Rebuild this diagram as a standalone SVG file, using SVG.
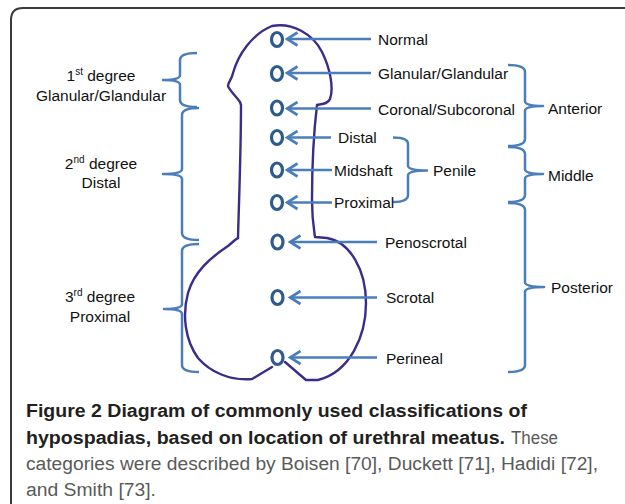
<svg xmlns="http://www.w3.org/2000/svg" width="625" height="504" viewBox="0 0 625 504">
<defs>
<style>
.lbl{font-family:"Liberation Sans",Arial,sans-serif;font-size:15.5px;fill:#111}
.lft{font-family:"Liberation Sans",Arial,sans-serif;font-size:15.5px;fill:#111;text-anchor:middle}
.sup{font-size:10px}
.cb{font-family:"Liberation Sans",Arial,sans-serif;font-size:18px;font-weight:bold;fill:#231f20}
.cr{font-family:"Liberation Sans",Arial,sans-serif;font-size:18px;fill:#5a5a5a}
.arr{stroke:#4a7ebb;stroke-width:2.7;fill:none;marker-end:url(#ah)}
.brace{stroke:#4a7ebb;stroke-width:2.5;fill:none;stroke-linejoin:round}
.ov{stroke:#2f5b8a;stroke-width:3.2;fill:none}
.body{stroke:#3d2b88;stroke-width:2.4;fill:none;stroke-linejoin:round;stroke-linecap:round}
</style>
<marker id="ah" markerUnits="userSpaceOnUse" viewBox="0 0 14 16" refX="12" refY="8" markerWidth="14" markerHeight="16" orient="auto">
<path d="M1.5,1.5 L12,8 L1.5,14.5" fill="none" stroke="#4a7ebb" stroke-width="2.7"/>
</marker>
</defs>
<rect width="625" height="504" fill="#ffffff"/>
<path d="M11,504 L11,20 Q11,8 23,8 L625,8" fill="none" stroke="#3a3a3a" stroke-width="2"/>

<g id="body">
<path class="body" d="M238,238 C239,200 241,150 241,105 L240,102 C236,96 229,90 228,86 C228,82 232,79 233,73 C238,55 252,34 272,26 C292,22 313,34 322,52 C330,68 334,88 330,99 C328,104 322,104 317,105 C314,130 312,170 312,200 C312,220 314,230 315,237 L327,238 C350,242 366,270 366,303 C366,336 350,372 318,380 L306,380 L285,362"/>
<path class="body" d="M272,367 L252,379 C230,381 210,372 198,358 C185,340 182,315 188,293 C194,272 210,258 228,246 L235,240 L238,238"/>
</g>

<g id="ovals">
<ellipse class="ov" cx="277" cy="39.5" rx="5.5" ry="7"/>
<ellipse class="ov" cx="277" cy="73.5" rx="5.5" ry="7"/>
<ellipse class="ov" cx="277" cy="108" rx="5.5" ry="7"/>
<ellipse class="ov" cx="277" cy="137.5" rx="5.5" ry="7"/>
<ellipse class="ov" cx="277" cy="170" rx="5.5" ry="7"/>
<ellipse class="ov" cx="277" cy="202.5" rx="5.5" ry="7"/>
<ellipse class="ov" cx="277.5" cy="242" rx="5.5" ry="7"/>
<ellipse class="ov" cx="277.5" cy="297.5" rx="5.5" ry="7"/>
<ellipse class="ov" cx="277.5" cy="357.5" rx="5.5" ry="7"/>
</g>

<g id="connectors">
<line class="arr" x1="371" y1="39" x2="287" y2="39"/>
<line class="arr" x1="371" y1="73" x2="287" y2="73"/>
<line class="arr" x1="371" y1="108.5" x2="287" y2="108.5"/>
<line class="arr" x1="331" y1="137.5" x2="287" y2="137.5"/>
<line class="arr" x1="332" y1="170" x2="287" y2="170"/>
<line class="arr" x1="332" y1="202.5" x2="287" y2="202.5"/>
<line class="arr" x1="377" y1="242" x2="290" y2="242"/>
<line class="arr" x1="377" y1="297.5" x2="290" y2="297.5"/>
<line class="arr" x1="377" y1="357.5" x2="290" y2="357.5"/>
</g>

<g id="braces">
<path class="brace" d="M197,53 Q180,53 180,60 V75 Q180,80 163,80 Q180,80 180,85 V100 Q180,107 197,107"/>
<path class="brace" d="M199,108 Q182,108 182,115 V169 Q182,174 163,174 Q182,174 182,179 V233 Q182,240 199,240"/>
<path class="brace" d="M199,244 Q182,244 182,251 V304 Q182,309 164,309 Q182,309 182,314 V365 Q182,372 199,372"/>
<path class="brace" d="M508,65 Q525,65 525,72 V101 Q525,106 543,106 Q525,106 525,111 V139 Q525,146 508,146"/>
<path class="brace" d="M508,147 Q525,147 525,154 V169 Q525,174 543,174 Q525,174 525,179 V195 Q525,202 508,202"/>
<path class="brace" d="M508,203 Q525,203 525,210 V282 Q525,287 544,287 Q525,287 525,292 V365 Q525,372 508,372"/>
<path class="brace" d="M393,137.5 Q408,137.5 408,144 V165.5 Q408,170.5 427,170.5 Q408,170.5 408,175.5 V195 Q408,202 393,202"/>
</g>

<g id="labels">
<text class="lbl" x="378" y="45">Normal</text>
<text class="lbl" x="378" y="79">Glanular/Glandular</text>
<text class="lbl" x="378" y="114.5">Coronal/Subcoronal</text>
<text class="lbl" x="338" y="143">Distal</text>
<text class="lbl" x="334" y="175.5">Midshaft</text>
<text class="lbl" x="334" y="208">Proximal</text>
<text class="lbl" x="433" y="176">Penile</text>
<text class="lbl" x="548" y="114">Anterior</text>
<text class="lbl" x="548" y="180.5">Middle</text>
<text class="lbl" x="385" y="248">Penoscrotal</text>
<text class="lbl" x="386" y="303">Scrotal</text>
<text class="lbl" x="386" y="364">Perineal</text>
<text class="lbl" x="551" y="293">Posterior</text>

<text class="lft" x="101" y="80.5">1<tspan class="sup" dy="-6">st</tspan><tspan dy="6"> degree</tspan></text>
<text class="lft" x="101" y="100.5">Glanular/Glandular</text>
<text class="lft" x="101" y="169">2<tspan class="sup" dy="-6">nd</tspan><tspan dy="6"> degree</tspan></text>
<text class="lft" x="101" y="188">Distal</text>
<text class="lft" x="100" y="302">3<tspan class="sup" dy="-6">rd</tspan><tspan dy="6"> degree</tspan></text>
<text class="lft" x="100" y="322">Proximal</text>
</g>

<g id="caption">
<text class="cb" x="26" y="417" textLength="501" lengthAdjust="spacingAndGlyphs">Figure 2 Diagram of commonly used classifications of</text>
<text class="cb" x="26" y="443.5" textLength="479" lengthAdjust="spacingAndGlyphs">hypospadias, based on location of urethral meatus.</text>
<text class="cr" x="511" y="443.5" textLength="47" lengthAdjust="spacingAndGlyphs">These</text>
<text class="cr" x="26" y="470" textLength="572" lengthAdjust="spacingAndGlyphs">categories were described by Boisen [70], Duckett [71], Hadidi [72],</text>
<text class="cr" x="26" y="496" textLength="130" lengthAdjust="spacingAndGlyphs">and Smith [73].</text>
</g>
</svg>
